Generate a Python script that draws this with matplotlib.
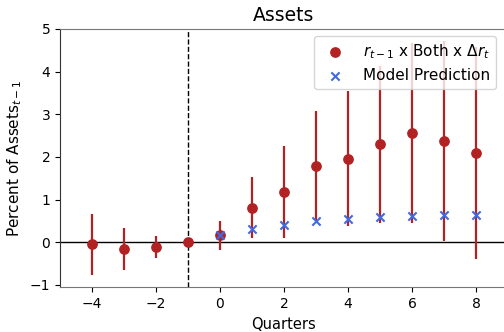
import matplotlib
matplotlib.use("Agg")
import matplotlib.pyplot as plt
import numpy as np

quarters = [-4, -3, -2, -1, 0, 1, 2, 3, 4, 5, 6, 7, 8]
coef = [-0.05, -0.16, -0.11, 0.0, 0.17, 0.81, 1.18, 1.79, 1.96, 2.30, 2.56, 2.37, 2.09]
ci_low = [-0.77, -0.66, -0.36, 0.0, -0.18, 0.09, 0.09, 0.52, 0.38, 0.46, 0.44, 0.02, -0.39]
ci_high = [0.67, 0.33, 0.15, 0.0, 0.50, 1.53, 2.25, 3.07, 3.54, 4.14, 4.68, 4.72, 4.57]
model_q = [0, 1, 2, 3, 4, 5, 6, 7, 8]
model_pred = [0.17, 0.31, 0.40, 0.50, 0.54, 0.58, 0.61, 0.63, 0.64]

fig = plt.figure(figsize=(5.04, 3.32), dpi=100)
ax = fig.add_axes([60/504, 45/332, 448/504, 258/332])

red = "#b22222"
blue = "#4169e1"

coef_a = np.array(coef)
yerr = np.vstack([coef_a - np.array(ci_low), np.array(ci_high) - coef_a])
ax.errorbar(quarters, coef, yerr=yerr, fmt="none", ecolor=red, elinewidth=1.6, capsize=0, zorder=2)
ax.scatter(quarters, coef, s=45, color=red, zorder=3, label=r"$r_{t-1}$ x Both x $\Delta r_t$")
ax.scatter(model_q, model_pred, s=35, marker="x", color=blue, linewidths=1.5, zorder=4, label="Model Prediction")

ax.axhline(0, color="black", lw=1, zorder=1)
ax.axvline(-1, color="black", lw=1, ls="--", zorder=1)

ax.set_xlim(-5, 9)
ax.set_ylim(-1.05, 5)
ax.set_xticks([-4, -2, 0, 2, 4, 6, 8])
ax.set_yticks([-1, 0, 1, 2, 3, 4, 5])
ax.tick_params(labelsize=10, colors="black")
for s in ["top", "bottom", "right"]:
    ax.spines[s].set_color("#777777")
ax.spines["left"].set_color("#333333")

ax.set_title("Assets", fontsize=13.5)
ax.set_xlabel("Quarters", fontsize=10.5, labelpad=4.5)
ax.set_ylabel(r"Percent of Assets$_{t-1}$", fontsize=11)
ax.legend(loc="upper right", fontsize=11, borderaxespad=0.45,
          bbox_to_anchor=(0.988, 1.0))

fig.savefig("out.png", dpi=100)
